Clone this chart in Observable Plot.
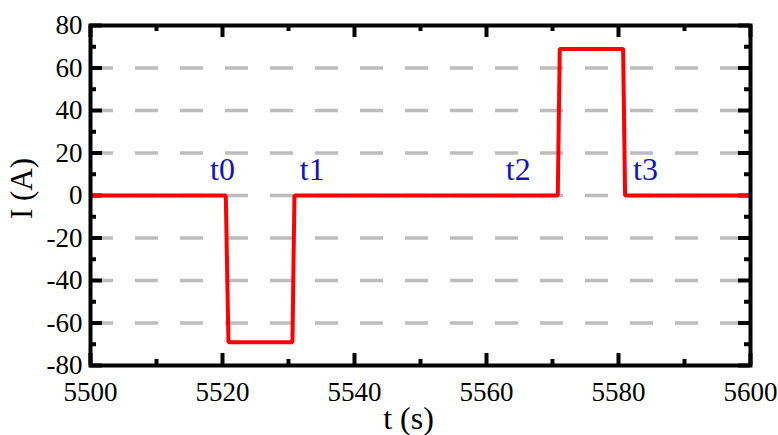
<!DOCTYPE html>
<html>
<head>
<meta charset="utf-8">
<script src="https://cdn.jsdelivr.net/npm/d3@7"></script>
<script src="https://cdn.jsdelivr.net/npm/@observablehq/plot@0.6"></script>
<style>
  html, body { margin: 0; padding: 0; background: #fff; }
  #chart svg, #chart svg text { font-family: "Liberation Serif", "Times New Roman", "DejaVu Serif", serif !important; }
</style>
</head>
<body>
<div id="chart"></div>
<script>
// Data
const times   = [5500, 5520.5, 5520.9, 5530.6, 5530.9, 5570.8, 5571.1, 5580.7, 5581.0, 5600];
const current = [0,    0,      -69,    -69,    0,      0,      69,     69,     0,      0];

const markerText = ["t0", "t1", "t2", "t3"];
const markerT    = [5520.0, 5533.6, 5564.8, 5584.1];
const markerI    = [12, 12, 12, 12];

const xMajor = [5500, 5520, 5540, 5560, 5580, 5600];
const xMinor = [5510, 5530, 5550, 5570, 5590];
const yMajor = [-80, -60, -40, -20, 0, 20, 40, 60, 80];
const yMinor = [-70, -50, -30, -10, 10, 30, 50, 70];
const gridY  = [-60, -40, -20, 0, 20, 40, 60];

const xLabel = "t (s)";
const yLabel = "I (A)";

// Layout
const W = 778, H = 435;
const mL = 90, mR = 28, mT = 25, mB = 70;
const fw = W - mL - mR, fh = H - mT - mB;
const majorLen = 12, minorLen = 6;
const serif = "Liberation Serif";

const series = times.map((t, i) => ({t, I: current[i]}));
const markers = markerText.map((s, i) => ({s, t: markerT[i], I: markerI[i]}));
const fmt = d => String(d);

const chart = Plot.plot({
  width: W, height: H,
  marginLeft: mL, marginRight: mR, marginTop: mT, marginBottom: mB,
  x: {domain: [5500, 5600]},
  y: {domain: [-80, 80]},
  style: {fontSize: "27px", background: "#fff", color: "#000"},
  marks: [
    Plot.ruleY(gridY, {y: d => d, stroke: "#bdbdbd", strokeWidth: 3.5, strokeDasharray: "23,22"}),
    // inward ticks: bottom & top
    Plot.tickX(xMajor, {x: d => d, stroke: "#000", strokeWidth: 4, insetTop: fh - majorLen}),
    Plot.tickX(xMinor, {x: d => d, stroke: "#000", strokeWidth: 4, insetTop: fh - minorLen}),
    Plot.tickX(xMajor, {x: d => d, stroke: "#000", strokeWidth: 4, insetBottom: fh - majorLen}),
    Plot.tickX(xMinor, {x: d => d, stroke: "#000", strokeWidth: 4, insetBottom: fh - minorLen}),
    // inward ticks: left & right
    Plot.tickY(yMajor, {y: d => d, stroke: "#000", strokeWidth: 4, insetRight: fw - majorLen}),
    Plot.tickY(yMinor, {y: d => d, stroke: "#000", strokeWidth: 4, insetRight: fw - minorLen}),
    Plot.tickY(yMajor, {y: d => d, stroke: "#000", strokeWidth: 4, insetLeft: fw - majorLen}),
    Plot.tickY(yMinor, {y: d => d, stroke: "#000", strokeWidth: 4, insetLeft: fw - minorLen}),
    Plot.line(series, {x: "t", y: "I", stroke: "#f00", strokeWidth: 4, strokeLinejoin: "miter", strokeLinecap: "butt"}),
    Plot.text(markers, {x: "t", y: "I", text: "s", fill: "#1212c0", fontSize: 32, fontFamily: serif, textAnchor: "middle"}),
    Plot.frame({stroke: "#000", strokeWidth: 4}),
    Plot.axisX(xMajor, {tickSize: 0, tickPadding: 16, tickFormat: fmt, label: null, fontSize: 27, fontFamily: serif}),
    Plot.axisY(yMajor, {tickSize: 0, tickPadding: 8, tickFormat: fmt, label: null, fontSize: 27, fontFamily: serif}),
    Plot.text([xLabel], {frameAnchor: "bottom", text: d => d, textAnchor: "middle", lineAnchor: "middle", dx: -12, dy: 53, fontSize: 32, fontFamily: serif}),
    Plot.text([yLabel], {frameAnchor: "left", text: d => d, textAnchor: "middle", lineAnchor: "middle", rotate: -90, dx: -68, dy: -7, fontSize: 31, fontFamily: serif})
  ]
});
document.getElementById("chart").appendChild(chart);
</script>
</body>
</html>
